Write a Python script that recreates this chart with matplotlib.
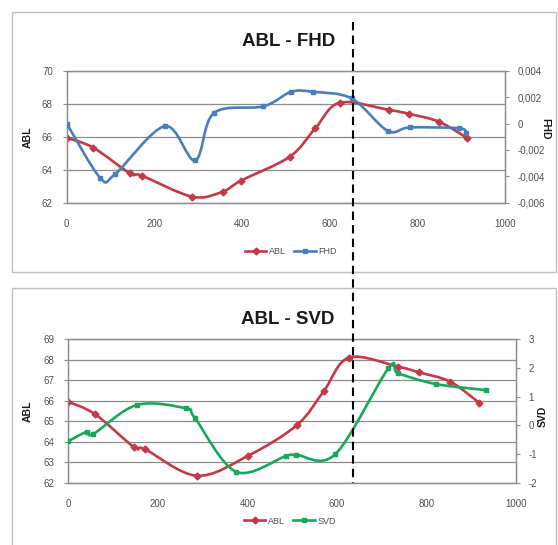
import matplotlib
matplotlib.use("Agg")
import matplotlib.pyplot as plt
import numpy as np
from matplotlib.lines import Line2D
from matplotlib.patches import PathPatch, Rectangle
from matplotlib.path import Path

plt.rcParams["font.family"] = ["Liberation Sans", "DejaVu Sans"]

# --- data ----------------------------------------------------------------
fhd_abl_x = [0, 61, 144, 171, 287, 356, 397, 509, 567, 623, 736, 782, 849, 913]
fhd_abl_y = [65.94, 65.33, 63.78, 63.64, 62.36, 62.67, 63.33, 64.79, 66.5, 68.06, 67.62, 67.38, 66.91, 65.94]
fhd_x = [0, 76, 110, 224, 293, 336, 449, 512, 561, 650, 732, 783, 895, 911]
fhd_y = [0.0, -0.0041, -0.00385, -0.0002, -0.0028, 0.0008, 0.0013, 0.0024, 0.0024, 0.0019,
         -0.00055, -0.0003, -0.00036, -0.0007]

svd_abl_x = [0, 60, 147, 171, 287, 402, 511, 571, 627, 737, 783, 853, 918]
svd_abl_y = [65.95, 65.34, 63.73, 63.64, 62.34, 63.32, 64.82, 66.48, 68.11, 67.66, 67.39, 66.93, 65.9]
svd_x = [0, 42, 56, 153, 263, 283, 375, 486, 509, 596, 715, 737, 821, 932]
svd_y = [-0.55, -0.22, -0.30, 0.71, 0.59, 0.25, -1.62, -1.07, -1.03, -1.01, 1.99, 1.81, 1.44, 1.23]

x_ticks = [0, 200, 400, 600, 800, 1000]
fhd_ticks = [0.004, 0.002, 0.0, -0.002, -0.004, -0.006]
fhd_tick_labels = ["0,004", "0,002", "0", "-0,002", "-0,004", "-0,006"]
svd_ticks = [3, 2, 1, 0, -1, -2]

RED = "#C63846"
BLUE = "#4A7EBB"
GREEN = "#17A85A"
GRID = "#8C8C8C"
TXT = "#505050"

W, H = 558, 545


def px(x0, y0, x1, y1):
    """pixel box (top-left origin) -> figure fraction rect"""
    return [x0 / W, 1 - y1 / H, (x1 - x0) / W, (y1 - y0) / H]


def smooth_path(x, y):
    # Excel-style smoothed line: cubic bezier through the points
    p = np.column_stack([x, y]).astype(float)
    verts = [p[0]]
    codes = [Path.MOVETO]
    n = len(p)
    for i in range(n - 1):
        p_prev = p[i - 1] if i > 0 else p[i]
        p_next = p[i + 2] if i + 2 < n else p[i + 1]
        c1 = p[i] + (p[i + 1] - p_prev) / 6
        c2 = p[i + 1] - (p_next - p[i]) / 6
        verts += [c1, c2, p[i + 1]]
        codes += [Path.CURVE4] * 3
    return Path(verts, codes)


def series(ax, x, y, color, marker, ms):
    ax.add_patch(PathPatch(smooth_path(x, y), facecolor="none", edgecolor=color,
                           lw=1.9, capstyle="round", joinstyle="round", zorder=3))
    ax.plot(x, y, ls="none", marker=marker, ms=ms, color=color, zorder=4)


def panel(rect, abl_lim, abl_ticks, right_lim, right_ticks, right_labels):
    ax = fig.add_axes(rect)
    ax.set_xlim(0, 1000)
    ax.set_ylim(*abl_lim)
    ax.set_xticks(x_ticks)
    ax.set_yticks(abl_ticks)
    ax.grid(axis="y", color=GRID, lw=0.9)
    ax.set_axisbelow(True)
    ax.tick_params(axis="x", length=0, pad=12, labelsize=7, labelcolor=TXT)
    ax.tick_params(axis="y", length=3, color=GRID, pad=7, labelsize=7, labelcolor=TXT)
    for s in ax.spines.values():
        s.set_color(GRID)
        s.set_linewidth(0.9)
    ax2 = ax.twinx()
    ax2.set_ylim(*right_lim)
    ax2.set_yticks(right_ticks)
    ax2.set_yticklabels(right_labels)
    ax2.tick_params(axis="y", length=3, color=GRID, pad=6, labelsize=7, labelcolor=TXT)
    for s in ax2.spines.values():
        s.set_color(GRID)
        s.set_linewidth(0.9)
    return ax, ax2


fig = plt.figure(figsize=(W / 100, H / 100), dpi=100)

# panel frames
for y0, y1 in ((12, 272), (288, 560)):
    fig.add_artist(Rectangle((12 / W, 1 - y1 / H), (556 - 12) / W, (y1 - y0) / H,
                             transform=fig.transFigure, facecolor="none",
                             edgecolor="#BFBFBF", lw=1.0))

# top chart: ABL - FHD
ax, ax2 = panel(px(66.7, 70.7, 505, 202.7), (62, 70), [62, 64, 66, 68, 70],
                (-0.006, 0.004), fhd_ticks, fhd_tick_labels)
series(ax, fhd_abl_x, fhd_abl_y, RED, "D", 3.5)
series(ax2, fhd_x, fhd_y, BLUE, "s", 3.2)
fig.text(289 / W, 1 - 41 / H, "ABL - FHD", ha="center", va="center",
         fontsize=13.5, fontweight="bold", color="#1A1A1A")
fig.text(28 / W, 1 - 137 / H, "ABL", rotation=90, ha="center", va="center",
         fontsize=7.5, fontweight="bold", color="#1A1A1A")
fig.text(545 / W, 1 - 129 / H, "FHD", rotation=-90, ha="center", va="center",
         fontsize=7.5, fontweight="bold", color="#1A1A1A")
fig.legend(handles=[Line2D([], [], color=RED, lw=1.9, marker="D", ms=3.5, label="ABL"),
                    Line2D([], [], color=BLUE, lw=1.9, marker="s", ms=3.2, label="FHD")],
           loc="center", bbox_to_anchor=(291 / W, 1 - 252 / H), ncol=2, frameon=False,
           fontsize=6.5, handlelength=2.4, handletextpad=0.3, columnspacing=0.9,
           labelcolor=TXT)

# bottom chart: ABL - SVD
bx, bx2 = panel(px(68.3, 339.3, 516, 482.7), (62, 69), list(range(62, 70)),
                (-2, 3), svd_ticks, [str(t) for t in svd_ticks])
series(bx, svd_abl_x, svd_abl_y, RED, "D", 3.5)
series(bx2, svd_x, svd_y, GREEN, "s", 3.2)
fig.text(288 / W, 1 - 319 / H, "ABL - SVD", ha="center", va="center",
         fontsize=13.5, fontweight="bold", color="#1A1A1A")
fig.text(28 / W, 1 - 411 / H, "ABL", rotation=90, ha="center", va="center",
         fontsize=7.5, fontweight="bold", color="#1A1A1A")
fig.text(543 / W, 1 - 416 / H, "SVD", rotation=90, ha="center", va="center",
         fontsize=7.5, fontweight="bold", color="#1A1A1A")
fig.legend(handles=[Line2D([], [], color=RED, lw=1.9, marker="D", ms=3.5, label="ABL"),
                    Line2D([], [], color=GREEN, lw=1.9, marker="s", ms=3.2, label="SVD")],
           loc="center", bbox_to_anchor=(290 / W, 1 - 521 / H), ncol=2, frameon=False,
           fontsize=6.5, handlelength=2.4, handletextpad=0.3, columnspacing=0.9,
           labelcolor=TXT)

# dashed marker line running across both panels
fig.add_artist(Line2D([353 / W, 353 / W], [1 - 22 / H, 1 - 483 / H], transform=fig.transFigure,
                      color="black", lw=1.5, ls=(0, (4, 2.5)), zorder=10))

fig.savefig("out.png", dpi=100)
